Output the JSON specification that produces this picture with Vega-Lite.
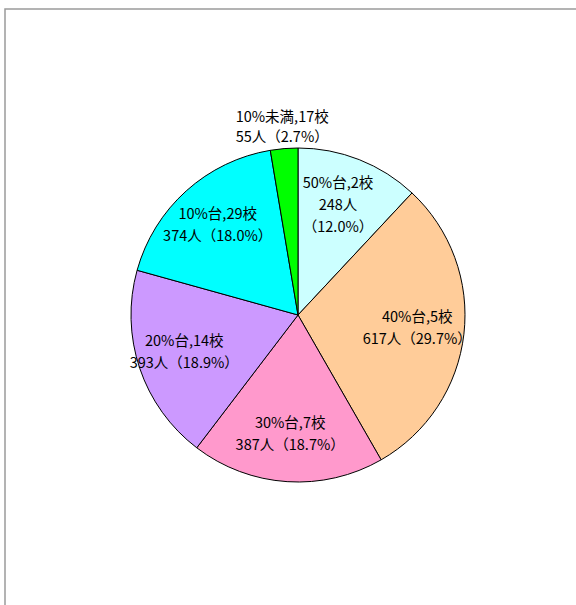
{
  "$schema": "https://vega.github.io/schema/vega-lite/v6.json",
  "autosize": "none",
  "width": 586,
  "height": 612,
  "padding": {"left": 5, "top": 9, "right": 0, "bottom": 0},
  "background": "white",
  "view": {"stroke": "#9a9a9a", "strokeWidth": 1.5},
  "config": {
    "view": {"stroke": "#9a9a9a", "strokeWidth": 1.5},
    "text": {"font": "Noto Sans CJK JP"}
  },
  "data": {
    "values": [
      {"rank": 1, "category": "50%台", "people": 248, "label": "50%台,2校|248人|（12.0%）", "lines": 3, "outside": false},
      {"rank": 2, "category": "40%台", "people": 617, "label": "40%台,5校|617人（29.7%）", "lines": 2, "outside": false},
      {"rank": 3, "category": "30%台", "people": 387, "label": "30%台,7校|387人（18.7%）", "lines": 2, "outside": false},
      {"rank": 4, "category": "20%台", "people": 393, "label": "20%台,14校|393人（18.9%）", "lines": 2, "outside": false},
      {"rank": 5, "category": "10%台", "people": 374, "label": "10%台,29校|374人（18.0%）", "lines": 2, "outside": false},
      {"rank": 6, "category": "10%未満", "people": 55, "label": "10%未満,17校|55人（2.7%）", "lines": 2, "outside": true}
    ]
  },
  "encoding": {
    "theta": {"field": "people", "type": "quantitative", "stack": true},
    "order": {"field": "rank", "type": "quantitative"}
  },
  "layer": [
    {
      "mark": {"type": "arc", "outerRadius": 167, "stroke": "black", "strokeWidth": 1},
      "encoding": {
        "color": {
          "field": "category",
          "type": "nominal",
          "scale": {
            "domain": ["50%台", "40%台", "30%台", "20%台", "10%台", "10%未満"],
            "range": ["#CCFFFF", "#FFCC99", "#FF99CC", "#CC99FF", "#00FFFF", "#00FF00"]
          },
          "legend": null
        }
      }
    },
    {
      "mark": {"type": "text", "lineBreak": "|", "fontSize": 14.5, "lineHeight": 22, "color": "black", "baseline": "middle", "dy": -11},
      "encoding": {
        "radius": {"value": 120},
        "text": {"field": "label"},
        "opacity": {"condition": {"test": "datum.outside || datum.lines == 3", "value": 0}, "value": 1}
      }
    },
    {
      "mark": {"type": "text", "lineBreak": "|", "fontSize": 14.5, "lineHeight": 22, "color": "black", "baseline": "middle", "dy": -19, "dx": -4},
      "encoding": {
        "radius": {"value": 120},
        "text": {"field": "label"},
        "opacity": {"condition": {"test": "datum.lines == 3", "value": 1}, "value": 0}
      }
    },
    {
      "mark": {"type": "text", "lineBreak": "|", "fontSize": 14.5, "lineHeight": 20, "color": "black", "baseline": "middle", "dy": -8},
      "encoding": {
        "radius": {"value": 190},
        "text": {"field": "label"},
        "opacity": {"condition": {"test": "datum.outside", "value": 1}, "value": 0}
      }
    }
  ]
}
